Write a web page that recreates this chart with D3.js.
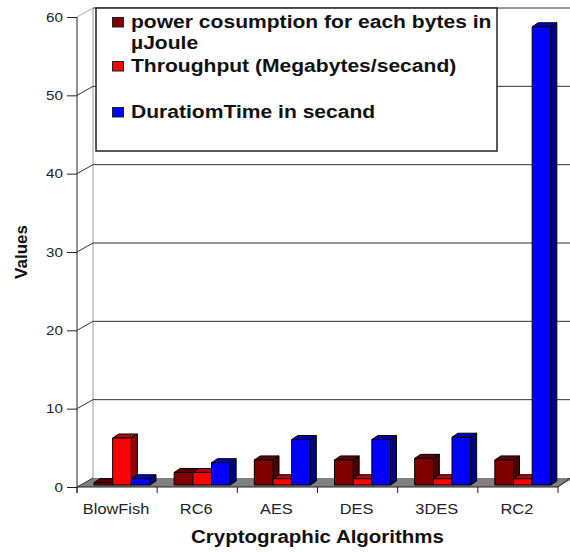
<!DOCTYPE html>
<html>
<head>
<meta charset="utf-8">
<script src="https://cdn.jsdelivr.net/npm/d3@7"></script>
<style>
  body { margin: 0; background: #fff; }
  svg { display: block; font-family: "Liberation Sans", Arial, sans-serif; }
</style>
</head>
<body>
<svg width="570" height="552"></svg>
<script>
const categories = ["BlowFish", "RC6", "AES", "DES", "3DES", "RC2"];
const seriesNames = ["power cosumption for each bytes in µJoule", "Throughput (Megabytes/secand)", "DuratiomTime in secand"];
const powerValues = [0.3, 1.6, 3.2, 3.2, 3.4, 3.2];
const throughputValues = [6.0, 1.6, 0.8, 0.8, 0.8, 0.8];
const durationValues = [0.8, 2.85, 5.8, 5.8, 6.1, 58.5];
const yTicks = [0, 10, 20, 30, 40, 50, 60];

const seriesValues = [powerValues, throughputValues, durationValues];
const colors = ["#800000", "#ff0000", "#0000ff"];

const svg = d3.select("svg");
const stretchK = 1.17;

// stretch text horizontally like the reference
function stretch(sel) {
    sel.each(function () {
        const len = this.getComputedTextLength();
        d3.select(this).attr("textLength", len * stretchK).attr("lengthAdjust", "spacingAndGlyphs");
    });
}

const plotLeft = 77, plotRight = 558, plotBottom = 487, plotTop = 17;
const depthX = 16, depthY = -9;     // wall depth
const barDx = 6, barDy = -4;        // bar depth
const barShiftX = 3, barShiftY = -2;

const x = d3.scaleBand().domain(categories).range([plotLeft, plotRight]);
const xInner = d3.scaleBand().domain([0, 1, 2]).range([14, 70]);
const y = d3.scaleLinear().domain([0, 60]).range([plotBottom, plotTop]);

// floor
svg.append("polygon")
    .attr("points", [[plotLeft, plotBottom], [plotRight, plotBottom], [plotRight + depthX, plotBottom + depthY], [plotLeft + depthX, plotBottom + depthY]].join(" "))
    .attr("fill", "#808080");
svg.append("line")
    .attr("x1", plotRight).attr("y1", plotBottom).attr("x2", plotRight + depthX - 4).attr("y2", plotBottom + depthY)
    .attr("stroke", "#222");

// back wall left edge
svg.append("line")
    .attr("x1", plotLeft + depthX).attr("y1", y(60) + depthY)
    .attr("x2", plotLeft + depthX).attr("y2", plotBottom + depthY)
    .attr("stroke", "#999");

// gridlines on back wall + diagonals on the side wall
const grid = svg.append("g");
grid.selectAll(".back").data(yTicks.filter(d => d > 0)).enter()
    .append("line")
    .attr("x1", plotLeft + depthX).attr("x2", 575)
    .attr("y1", d => y(d) + depthY).attr("y2", d => y(d) + depthY)
    .attr("stroke", "#333");
grid.selectAll(".diag").data(yTicks).enter()
    .append("line")
    .attr("x1", plotLeft).attr("y1", d => y(d))
    .attr("x2", plotLeft + depthX).attr("y2", d => y(d) + depthY)
    .attr("stroke", d => d == 60 ? "#aaa" : "#333");

// y axis
const yAxis = d3.axisLeft(y).tickValues(yTicks).tickSize(10).tickPadding(4);
const gy = svg.append("g").attr("transform", `translate(${plotLeft},0)`).call(yAxis);
gy.select(".domain").attr("stroke", "#222").attr("d", `M-0,${plotBottom + 6}V${plotTop}`);
gy.selectAll(".tick line").attr("stroke", "#222");
gy.selectAll(".tick text")
    .attr("font-size", 13).attr("fill", "#222").attr("font-family", null)
    .call(stretch);

// x axis
svg.append("line")
    .attr("x1", plotLeft).attr("x2", plotRight).attr("y1", plotBottom).attr("y2", plotBottom)
    .attr("stroke", "#222");
svg.selectAll(".xtick").data(categories.concat(["end"])).enter()
    .append("line")
    .attr("x1", d => d == "end" ? plotRight : x(d))
    .attr("x2", d => d == "end" ? plotRight : x(d))
    .attr("y1", plotBottom).attr("y2", plotBottom + 6)
    .attr("stroke", "#222");
svg.selectAll(".xlabel").data(categories).enter()
    .append("text")
    .attr("x", d => x(d) + x.bandwidth() / 2 - 1)
    .attr("y", 514)
    .attr("text-anchor", "middle")
    .attr("font-size", 14).attr("fill", "#222")
    .text(d => d)
    .call(stretch);

// bars
let bars = [];
categories.forEach((c, i) => {
    seriesValues.forEach((vals, s) => {
        bars.push({ cat: c, s: s, v: vals[i] });
    });
});

const barG = svg.append("g").attr("stroke", "#000").attr("stroke-width", 1).attr("stroke-linejoin", "round");
bars.forEach((b) => {
    const w = xInner.bandwidth();
    const x0 = x(b.cat) + barShiftX + xInner(b.s);
    const x1 = x0 + w;
    const yB = y(0) + barShiftY;
    const yT = y(b.v) + barShiftY;
    const col = d3.color(colors[b.s]);
    const g = barG.append("g");
    g.append("polygon")
        .attr("points", [[x1, yT], [x1 + barDx, yT + barDy], [x1 + barDx, yB + barDy], [x1, yB]].join(" "))
        .attr("fill", col.darker(1.6));
    g.append("polygon")
        .attr("points", [[x0, yT], [x0 + barDx, yT + barDy], [x1 + barDx, yT + barDy], [x1, yT]].join(" "))
        .attr("fill", col.darker(0.9));
    g.append("rect")
        .attr("x", x0).attr("y", yT)
        .attr("width", w).attr("height", yB - yT)
        .attr("fill", colors[b.s]);
});

// legend
const legend = svg.append("g");
legend.append("rect")
    .attr("x", 96).attr("y", 8).attr("width", 401).attr("height", 143)
    .attr("fill", "#fff").attr("stroke", "#222").attr("stroke-width", 1.5);

const legendRows = [
    { lines: ["power cosumption for each bytes in", "µJoule"], y: 28 },
    { lines: ["Throughput (Megabytes/secand)"], y: 72 },
    { lines: ["DuratiomTime in secand"], y: 118 }
];
legendRows.forEach((row, i) => {
    legend.append("rect")
        .attr("x", 112.5).attr("y", row.y - 10.5).attr("width", 11).attr("height", 9.5)
        .attr("fill", colors[i]).attr("stroke", "#222").attr("stroke-width", 1);
    row.lines.forEach((line, j) => {
        legend.append("text")
            .attr("x", 131).attr("y", row.y + j * 21)
            .attr("font-size", 18).attr("font-weight", "bold").attr("fill", "#111")
            .text(line)
            .call(stretch);
    });
});

// axis titles
svg.append("text")
    .attr("x", (plotLeft + plotRight) / 2).attr("y", 543)
    .attr("text-anchor", "middle")
    .attr("font-size", 17.5).attr("font-weight", "bold").attr("fill", "#111")
    .text("Cryptographic Algorithms")
    .call(stretch);

svg.append("text")
    .attr("transform", "translate(27,252) rotate(-90)")
    .attr("text-anchor", "middle")
    .attr("font-size", 17).attr("font-weight", "bold").attr("fill", "#111")
    .text("Values");
</script>
</body>
</html>
